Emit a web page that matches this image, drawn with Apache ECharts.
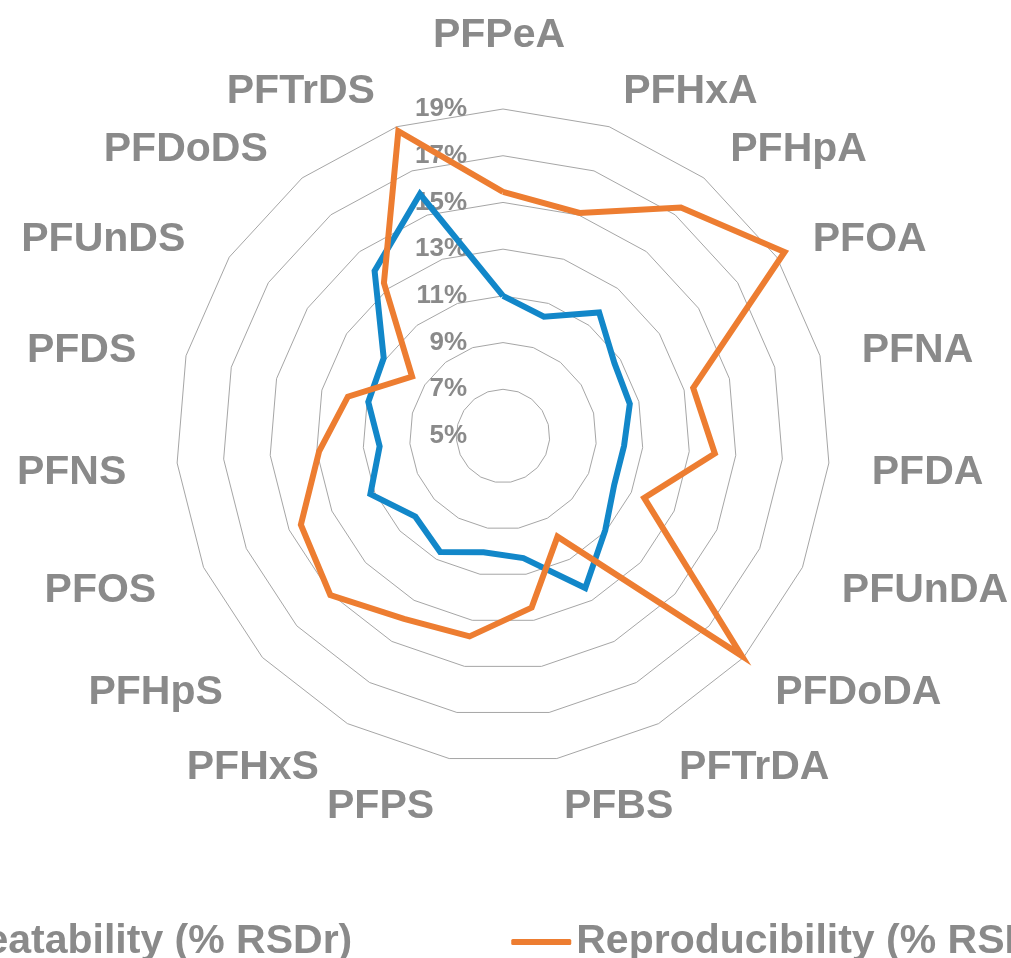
<!DOCTYPE html>
<html>
<head>
<meta charset="utf-8">
<script src="https://cdn.jsdelivr.net/npm/echarts@6/dist/echarts.min.js"></script>
<style>
  html, body { margin: 0; padding: 0; background: #fff; }
  #main { width: 1011px; height: 958px; }
</style>
</head>
<body>
<div id="main"></div>
<script>
// compounds, clockwise from the top
var categories = ['PFPeA', 'PFHxA', 'PFHpA', 'PFOA', 'PFNA', 'PFDA', 'PFUnDA', 'PFDoDA', 'PFTrDA',
  'PFBS', 'PFPS', 'PFHxS', 'PFHpS', 'PFOS', 'PFNS', 'PFDS', 'PFUnDS', 'PFDoDS', 'PFTrDS'];
var repeatability = [11.0, 10.4, 11.7, 10.7, 10.6, 10.2, 10.2, 10.95, 12.4, 10.3,
  10.05, 10.65, 10.1, 11.2, 10.3, 10.95, 11.1, 13.95, 15.95];
var reproducibility = [15.45, 15.1, 17.4, 19.4, 13.4, 14.1, 11.6, 18.9, 9.9, 12.45,
  13.7, 13.9, 15.05, 14.45, 12.9, 11.85, 9.65, 13.3, 18.8];
var seriesNames = ['Repeatability (% RSDr)', 'Reproducibility (% RSDR)'];
var axisMin = 5, axisMax = 19;

var grey = '#8a8a8a';
var font = '"Liberation Sans", Arial, sans-serif';

// echarts radar runs counter-clockwise, so feed it first item then the rest reversed
function clockwise(arr) {
  return [arr[0]].concat(arr.slice(1).reverse());
}

// only the top axis carries the % labels
var indicators = clockwise(categories).map(function (name, i) {
  var ind = { name: name, min: axisMin, max: axisMax };
  if (i === 0) {
    ind.nameGap = 53;
    ind.axisLabel = {
      show: true,
      margin: 36,
      color: grey,
      fontSize: 26,
      fontWeight: 'bold',
      fontFamily: font,
      formatter: '{value}%'
    };
  }
  return ind;
});

var myChart = echarts.init(document.getElementById('main'));
myChart.setOption({
  backgroundColor: '#fff',
  animation: false,
  color: ['#1287c9', '#ed7d31'],
  legend: {
    data: seriesNames,
    left: -162,
    top: 915,
    width: 1500,
    itemGap: 159,
    itemWidth: 60,
    itemHeight: 6,
    icon: 'roundRect',
    textStyle: { color: grey, fontSize: 41, fontWeight: 'bold', fontFamily: font, lineHeight: 44 }
  },
  radar: {
    center: [503, 436],
    radius: 327,
    startAngle: 90,
    shape: 'polygon',
    splitNumber: 7,
    nameGap: 43,
    axisName: {
      color: grey, fontSize: 41, fontWeight: 'bold', fontFamily: font,
      padding: [0, 8, 0, 0],
      // small empty line on top nudges the names down a little
      formatter: function (name) { return '{s| }\n' + name; },
      rich: { s: { fontSize: 2, lineHeight: 12 } }
    },
    axisLine: { show: false },
    axisTick: { show: false },
    axisLabel: { show: false },
    splitLine: { lineStyle: { color: '#a6a6a6', width: 1 } },
    splitArea: { show: false },
    indicator: indicators
  },
  series: [{
    type: 'radar',
    symbol: 'none',
    data: [
      { name: seriesNames[0], value: clockwise(repeatability),
        lineStyle: { width: 6, color: '#1287c9', join: 'miter' } },
      { name: seriesNames[1], value: clockwise(reproducibility),
        lineStyle: { width: 6, color: '#ed7d31', join: 'miter' } }
    ]
  }]
});
</script>
</body>
</html>
